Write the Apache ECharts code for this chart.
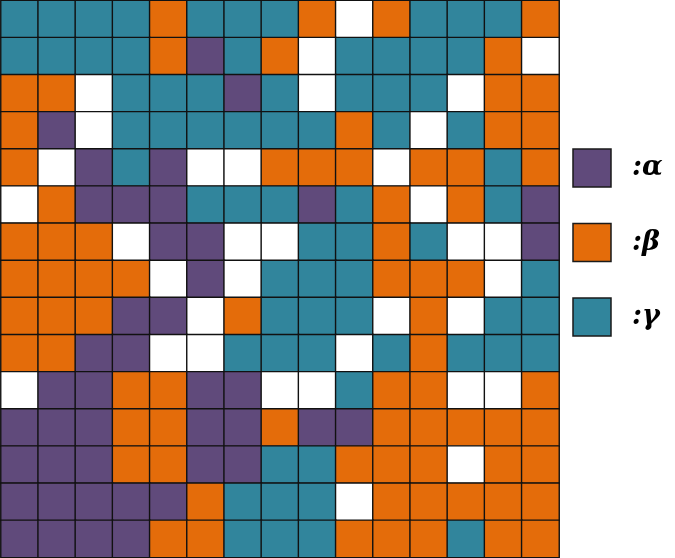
<!DOCTYPE html>
<html>
<head>
<meta charset="utf-8">
<script src="https://cdn.jsdelivr.net/npm/echarts@6/dist/echarts.min.js"></script>
<style>html,body{margin:0;padding:0;background:#fff}#c{width:675px;height:558px}</style>
</head>
<body>
<div id="c"></div>
<script>
// Categories: 0 = α, 1 = β, 2 = γ, 3 = empty
const categories = [':α', ':β', ':γ'];
const colors = ['#604A7B', '#E46C0A', '#31859C', '#FFFFFF'];
const columns = ['1','2','3','4','5','6','7','8','9','10','11','12','13','14','15'];
const rows = ['1','2','3','4','5','6','7','8','9','10','11','12','13','14','15'];
const row1  = [2,2,2,2,1,2,2,2,1,3,1,2,2,2,1];
const row2  = [2,2,2,2,1,0,2,1,3,2,2,2,2,1,3];
const row3  = [1,1,3,2,2,2,0,2,3,2,2,2,3,1,1];
const row4  = [1,0,3,2,2,2,2,2,2,1,2,3,2,1,1];
const row5  = [1,3,0,2,0,3,3,1,1,1,3,1,1,2,1];
const row6  = [3,1,0,0,0,2,2,2,0,2,1,3,1,2,0];
const row7  = [1,1,1,3,0,0,3,3,2,2,1,2,3,3,0];
const row8  = [1,1,1,1,3,0,3,2,2,2,1,1,1,3,2];
const row9  = [1,1,1,0,0,3,1,2,2,2,3,1,3,2,2];
const row10 = [1,1,0,0,3,3,2,2,2,3,2,1,2,2,2];
const row11 = [3,0,0,1,1,0,0,3,3,2,1,1,3,3,1];
const row12 = [0,0,0,1,1,0,0,1,0,0,1,1,1,1,1];
const row13 = [0,0,0,1,1,0,0,2,2,1,1,1,3,1,1];
const row14 = [0,0,0,0,0,1,2,2,2,3,1,1,1,1,1];
const row15 = [0,0,0,0,1,1,2,2,2,1,1,1,2,1,1];
const gridRows = [row1,row2,row3,row4,row5,row6,row7,row8,row9,row10,row11,row12,row13,row14,row15];

const data = [];
gridRows.forEach((r, y) => r.forEach((v, x) => data.push([x, y, v])));

const chart = echarts.init(document.getElementById('c'), null, {renderer: 'canvas'});

const legendGraphics = [];
categories.forEach((name, i) => {
  const top = 149 + i * 74.5;
  legendGraphics.push({
    type: 'rect', shape: {x: 573, y: top, width: 38, height: 38},
    style: {fill: colors[i], stroke: '#1a1a1a', lineWidth: 1.5}
  });
  legendGraphics.push({
    type: 'text', x: 632, y: top + 19,
    style: {text: name, fill: '#000', font: 'italic bold 27px "DejaVu Serif"', textVerticalAlign: 'middle', textAlign: 'left'}
  });
});

chart.setOption({
  animation: false,
  grid: {left: 1, top: 0.5, width: 558, height: 557, containLabel: false},
  xAxis: {type: 'category', data: columns, show: false},
  yAxis: {type: 'category', data: rows, inverse: true, show: false},
  visualMap: {
    show: false, type: 'piecewise', dimension: 2,
    pieces: [{value: 0, color: colors[0]}, {value: 1, color: colors[1]}, {value: 2, color: colors[2]}, {value: 3, color: colors[3]}]
  },
  series: [{
    type: 'heatmap', data: data,
    itemStyle: {borderColor: '#111', borderWidth: 1.4},
    emphasis: {disabled: true}
  }],
  graphic: legendGraphics
});
</script>
</body>
</html>
